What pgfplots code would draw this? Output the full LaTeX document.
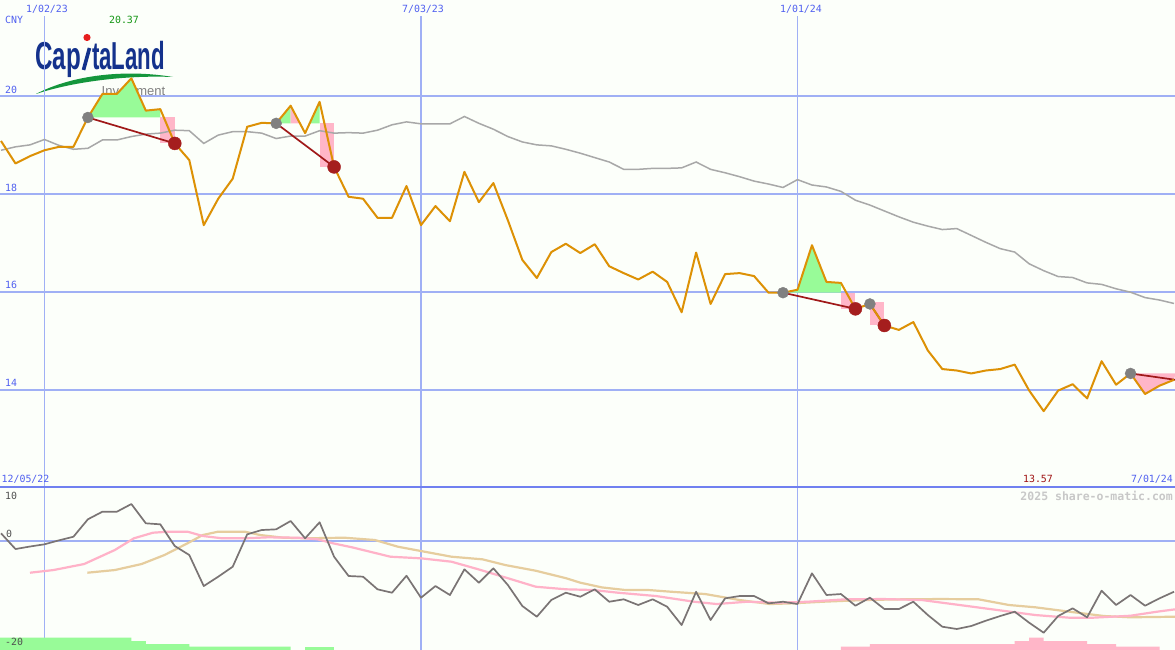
\documentclass[border=0pt]{standalone}
\usepackage{pgfplots}
\pgfplotsset{compat=1.18}
\usepackage{graphicx}
\usepackage{fontspec}
\setmainfont{Liberation Sans}
\newfontfamily\monof{DejaVu Sans Mono}
\newfontfamily\logof{Liberation Sans}
\definecolor{bgc}{RGB}{252,255,250}
\definecolor{gridc}{RGB}{160,176,245}
\definecolor{sepc}{RGB}{112,128,240}
\definecolor{lblc}{RGB}{80,96,240}
\definecolor{orangec}{RGB}{221,145,5}
\definecolor{mac}{RGB}{168,168,168}
\definecolor{momc}{RGB}{122,116,116}
\definecolor{pinkc}{RGB}{255,178,200}
\definecolor{tanc}{RGB}{230,205,158}
\definecolor{greenf}{RGB}{152,251,152}
\definecolor{pinkf}{RGB}{255,182,200}
\definecolor{dred}{RGB}{160,25,25}
\definecolor{reddot}{RGB}{165,30,30}
\definecolor{graydot}{RGB}{128,128,128}
\definecolor{navy}{RGB}{20,50,140}
\definecolor{logored}{RGB}{230,30,30}
\definecolor{logogreen}{RGB}{20,150,60}
\definecolor{gtext}{RGB}{20,150,20}
\definecolor{rtext}{RGB}{160,20,20}
\definecolor{wm}{RGB}{200,200,200}
\definecolor{btext}{RGB}{80,80,80}

\pgfplotstableread{
k v
-3 19.09
-2 18.63
-1 18.78
0 18.90
1 18.97
2 18.97
3 19.57
4 20.05
5 20.05
6 20.37
7 19.71
8 19.74
9 19.04
10 18.70
11 17.37
12 17.91
13 18.32
14 19.38
15 19.46
16 19.45
17 19.81
18 19.25
19 19.89
20 18.56
21 17.95
22 17.91
23 17.52
24 17.52
25 18.17
26 17.37
27 17.76
28 17.45
29 18.46
30 17.84
31 18.23
32 17.47
33 16.66
34 16.29
35 16.82
36 16.99
37 16.80
38 16.98
39 16.53
40 16.39
41 16.26
42 16.42
43 16.21
44 15.59
45 16.81
46 15.76
47 16.37
48 16.39
49 16.33
50 15.99
51 15.99
52 16.05
53 16.96
54 16.21
55 16.19
56 15.66
57 15.76
58 15.32
59 15.23
60 15.39
61 14.81
62 14.43
63 14.40
64 14.34
65 14.40
66 14.43
67 14.52
68 13.99
69 13.57
70 13.99
71 14.12
72 13.83
73 14.59
74 14.11
75 14.34
76 13.92
77 14.09
78 14.21
}\price

\pgfplotstableread{
k v
-3 18.90
-2 18.97
-1 19.01
0 19.12
1 19.00
2 18.92
3 18.94
4 19.11
5 19.11
6 19.18
7 19.23
8 19.25
9 19.31
10 19.30
11 19.04
12 19.21
13 19.28
14 19.28
15 19.25
16 19.14
17 19.19
18 19.19
19 19.30
20 19.25
21 19.26
22 19.25
23 19.31
24 19.42
25 19.48
26 19.44
27 19.44
28 19.44
29 19.59
30 19.45
31 19.33
32 19.18
33 19.07
34 19.01
35 18.99
36 18.92
37 18.84
38 18.75
39 18.66
40 18.51
41 18.51
42 18.53
43 18.53
44 18.54
45 18.66
46 18.51
47 18.44
48 18.36
49 18.27
50 18.21
51 18.14
52 18.30
53 18.19
54 18.15
55 18.06
56 17.88
57 17.78
58 17.66
59 17.54
60 17.43
61 17.35
62 17.28
63 17.30
64 17.16
65 17.02
66 16.89
67 16.82
68 16.58
69 16.44
70 16.32
71 16.30
72 16.19
73 16.16
74 16.07
75 16.00
76 15.89
77 15.84
78 15.77
}\mavg

\pgfplotstableread{
k v
-3 1.38
-2 -1.55
-1 -1.08
0 -0.67
1 0.07
2 0.74
3 3.99
4 5.40
5 5.40
6 6.83
7 3.24
8 3.05
9 -0.99
10 -2.66
11 -8.44
12 -6.70
13 -4.84
14 1.19
15 1.99
16 2.12
17 3.67
18 0.45
19 3.43
20 -2.98
21 -6.57
22 -6.70
23 -9.05
24 -9.68
25 -6.52
26 -10.61
27 -8.44
28 -10.11
29 -5.33
30 -7.82
31 -5.14
32 -8.25
33 -12.16
34 -14.15
35 -11.04
36 -9.68
37 -10.43
38 -9.05
39 -11.36
40 -10.91
41 -11.97
42 -10.91
43 -12.29
44 -15.70
45 -9.50
46 -14.77
47 -10.73
48 -10.30
49 -10.30
50 -11.66
51 -11.36
52 -11.79
53 -6.07
54 -10.11
55 -9.93
56 -12.10
57 -10.61
58 -12.72
59 -12.72
60 -11.36
61 -13.84
62 -16.01
63 -16.44
64 -15.88
65 -14.90
66 -14.02
67 -13.22
68 -15.27
69 -17.13
70 -14.02
71 -12.59
72 -14.26
73 -9.31
74 -11.97
75 -10.11
76 -12.10
77 -10.73
78 -9.50
}\mom

\pgfplotstableread{
k v
-1.0 -5.96
0.63 -5.46
2.74 -4.34
4.86 -1.73
6.18 0.45
7.49 1.49
8.56 1.68
9.88 1.68
10.93 0.88
12.26 0.45
13.85 0.45
15.43 0.63
17.54 0.56
18.86 0.26
19.92 -0.48
21.24 -1.23
23.89 -2.98
26.0 -3.28
28.11 -3.91
29.97 -5.33
31.8 -6.82
33.93 -8.57
36.04 -9.05
37.89 -9.18
39.6 -9.68
42.23 -10.30
44.85 -11.36
46.42 -11.79
48.52 -11.36
50.61 -11.55
52.71 -11.36
55.33 -10.91
57.95 -10.86
60.57 -11.04
63.19 -11.97
65.82 -12.91
68.43 -13.84
70.79 -14.34
72.36 -14.34
74.99 -13.97
76.82 -13.22
78.07 -12.78
}\pinkline

\pgfplotstableread{
k v
2.96 -5.96
4.86 -5.46
6.71 -4.34
8.29 -2.66
9.88 -0.48
10.93 1.06
11.99 1.68
13.84 1.68
14.90 1.06
16.49 0.56
18.07 0.45
20.71 0.56
22.82 0.13
24.41 -1.12
26.0 -1.92
28.11 -2.98
30.23 -3.46
31.82 -4.53
33.93 -5.59
36.04 -7.00
36.98 -7.80
38.5 -8.70
40.12 -9.18
41.7 -9.18
43.27 -9.50
45.63 -9.93
47.99 -11.04
50.09 -11.79
51.66 -11.66
53.76 -11.36
56.64 -11.04
59.26 -10.91
61.88 -10.86
64.5 -10.91
66.6 -11.97
68.43 -12.40
70.79 -13.22
73.15 -14.02
74.99 -14.26
78.07 -14.15
}\tanline

\begin{document}
\begin{tikzpicture}[x=1bp,y=1bp]
\fill[bgc] (0,0) rectangle (1175,-650);
% logo
\node[anchor=base west, inner sep=0, text=navy, font=\logof\bfseries\fontsize{39bp}{39bp}\selectfont] at (35,-70) {\scalebox{0.62}[1]{Cap}};
\node[anchor=base west, inner sep=0, text=navy, font=\logof\bfseries\fontsize{39bp}{39bp}\selectfont] at (92,-70) {\scalebox{0.57}[1]{taLand}};
\draw[navy, line width=3.6bp] (83.5,-70) -- (89.5,-48);
\fill[logored] (87,-37.5) circle (3.6);
\fill[logogreen] (36,-94) .. controls (72,-75) and (125,-69) .. (173,-77) .. controls (125,-75) and (72,-82) .. (36,-94) -- cycle;
\node[anchor=base west, inner sep=0, text=gray, font=\logof\fontsize{13bp}{13bp}\selectfont] at (101.5,-96) {Investment};

\begin{axis}[at={(0bp,0bp)}, anchor=north west, width=1175bp, height=487bp, scale only axis,
  xmin=-3.07, xmax=78.07, ymin=12.02, ymax=21.97, hide axis, clip=true]
\draw[gridc, line width=2bp] (axis cs:-4,20) -- (axis cs:80,20);
\draw[gridc, line width=2bp] (axis cs:-4,18) -- (axis cs:80,18);
\draw[gridc, line width=2bp] (axis cs:-4,16) -- (axis cs:80,16);
\draw[gridc, line width=2bp] (axis cs:-4,14) -- (axis cs:80,14);
\draw[gridc, line width=1.4bp] (axis cs:0,11) -- (axis cs:0,21.65);
\draw[gridc, line width=1.4bp] (axis cs:26,11) -- (axis cs:26,21.65);
\draw[gridc, line width=1.4bp] (axis cs:52,11) -- (axis cs:52,21.65);
% signal fills
\addplot[fill=greenf, draw=none] coordinates {(3,19.57) (4,20.05) (5,20.05) (6,20.37) (7,19.71) (8,19.74) (8,19.57)} -- cycle;
\addplot[fill=pinkf, draw=none] coordinates {(8,19.57) (9,19.57) (9,19.04) (8,19.04)} -- cycle;
\addplot[fill=greenf, draw=none] coordinates {(16,19.45) (17,19.81) (17,19.45)} -- cycle;
\addplot[fill=pinkf, draw=none] coordinates {(17,19.45) (17,19.81) (17.64,19.45)} -- cycle;
\addplot[fill=greenf, draw=none] coordinates {(18.31,19.45) (19,19.89) (19,19.45)} -- cycle;
\addplot[fill=pinkf, draw=none] coordinates {(19,19.45) (20,19.45) (20,18.56) (19,18.56)} -- cycle;
\addplot[fill=greenf, draw=none] coordinates {(51,15.99) (52,16.05) (53,16.96) (54,16.21) (55,16.19) (55,15.99)} -- cycle;
\addplot[fill=pinkf, draw=none] coordinates {(55,15.99) (56,15.99) (56,15.66) (55,15.66)} -- cycle;
\addplot[fill=pinkf, draw=none] coordinates {(57,15.79) (58,15.79) (58,15.32) (57,15.32)} -- cycle;
\addplot[fill=pinkf, draw=none] coordinates {(75,14.34) (76,13.92) (77,14.09) (78,14.21) (78.1,14.34)} -- cycle;
% moving average
\addplot[mac, line width=1.5bp] table[x=k, y=v] {\mavg};
% signal dots
\addplot[only marks, mark=*, mark size=5.5bp, mark options={draw=graydot, fill=graydot}] coordinates {(3,19.57) (16,19.45) (51,15.99) (57,15.76) (75,14.34)};
\addplot[only marks, mark=*, mark size=6.5bp, mark options={draw=reddot, fill=reddot}] coordinates {(9,19.04) (20,18.56) (56,15.66) (58,15.32)};
% trade lines
\addplot[dred, line width=1.7bp] coordinates {(3,19.57) (9,19.04)};
\addplot[dred, line width=1.7bp] coordinates {(16,19.45) (20,18.56)};
\addplot[dred, line width=1.7bp] coordinates {(51,15.99) (56,15.66)};
\addplot[dred, line width=1.7bp] coordinates {(57,15.76) (58,15.32)};
\addplot[dred, line width=1.7bp] coordinates {(75,14.34) (78.1,14.21)};
% price
\addplot[orangec, line width=2bp, line join=round] table[x=k, y=v] {\price};
\end{axis}

\begin{axis}[at={(0bp,-487bp)}, anchor=north west, width=1175bp, height=163bp, scale only axis,
  xmin=-3.07, xmax=78.07, ymin=-20.35, ymax=10, hide axis, clip=true]
\draw[gridc, line width=2bp] (axis cs:-4,0) -- (axis cs:80,0);
\draw[gridc, line width=1.4bp] (axis cs:0,-21) -- (axis cs:0,11);
\draw[gridc, line width=1.4bp] (axis cs:26,-21) -- (axis cs:26,11);
\draw[gridc, line width=1.4bp] (axis cs:52,-21) -- (axis cs:52,11);
\addplot[fill=greenf, draw=none] coordinates {(-4,-21) (-4,-18.06) (6,-18.06) (6,-18.68) (7,-18.68) (7,-19.24) (10,-19.24) (10,-19.74) (17,-19.74) (17,-21)} -- cycle;
\addplot[fill=greenf, draw=none] coordinates {(18,-21) (18,-19.74) (20,-19.74) (20,-21)} -- cycle;
\addplot[fill=pinkf, draw=none] coordinates {(55,-21) (55,-19.74) (57,-19.74) (57,-19.24) (67,-19.24) (67,-18.68) (68,-18.68) (68,-18.06) (69,-18.06) (69,-18.68) (72,-18.68) (72,-19.24) (74,-19.24) (74,-19.74) (77,-19.74) (77,-21)} -- cycle;
\addplot[tanc, line width=2.2bp] table[x=k, y=v] {\tanline};
\addplot[pinkc, line width=2.2bp] table[x=k, y=v] {\pinkline};
\addplot[momc, line width=1.7bp, line join=round] table[x=k, y=v] {\mom};
\end{axis}

\draw[sepc, line width=2bp] (0,-487) -- (1175,-487);

% labels
\begin{scope}[every node/.style={inner sep=0, font=\monof\fontsize{9.9bp}{10bp}\selectfont}]
\node[text=lblc, anchor=west] at (5,-20) {CNY};
\node[text=lblc] at (47,-9) {1/02/23};
\node[text=lblc] at (423,-9) {7/03/23};
\node[text=lblc] at (801,-9) {1/01/24};
\node[text=gtext] at (124,-20) {20.37};
\node[text=lblc, anchor=west] at (5,-90) {20};
\node[text=lblc, anchor=west] at (5,-188) {18};
\node[text=lblc, anchor=west] at (5,-285) {16};
\node[text=lblc, anchor=west] at (5,-383) {14};
\node[text=lblc, anchor=west] at (1.5,-479) {12/05/22};
\node[text=rtext] at (1038,-479) {13.57};
\node[text=lblc, anchor=east] at (1173,-479) {7/01/24};
\node[text=btext, anchor=west] at (5,-496) {10};
\node[text=btext, anchor=west] at (6,-534) {0};
\node[text=btext, anchor=west] at (5,-642) {-20};
\node[text=wm, anchor=east, font=\monof\bfseries\fontsize{11.5bp}{12bp}\selectfont] at (1173,-496) {2025 share-o-matic.com};
\end{scope}

\pgfresetboundingbox
\useasboundingbox (0,0) rectangle (1175,-650);
\end{tikzpicture}
\end{document}
